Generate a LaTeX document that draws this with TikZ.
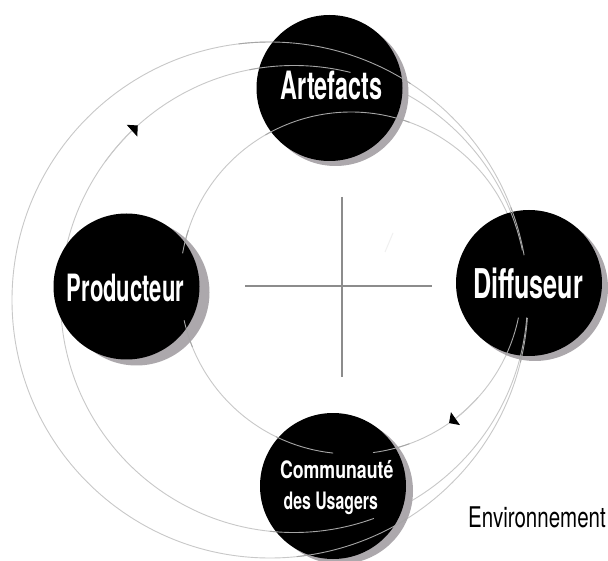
\documentclass[tikz,border=0pt]{standalone}
\usepackage{fontspec}
\usepackage{graphicx}
\usetikzlibrary{arrows.meta}
\newfontfamily\hf{TeX Gyre Heros}
\definecolor{ringc}{RGB}{200,200,200}
\definecolor{ringd}{RGB}{165,165,165}
\definecolor{crossc}{RGB}{140,140,140}
\definecolor{shadc}{RGB}{172,168,172}
\newcommand{\lbl}[3]{{\hf\bfseries\fontsize{#1}{#1}\selectfont\scalebox{#2}[1]{#3}}}
\newcommand{\lblr}[3]{{\hf\fontsize{#1}{#1}\selectfont\scalebox{#2}[1]{#3}}}
\begin{document}
\begin{tikzpicture}[x=1pt,y=-1pt,
  ring/.style={draw=ringc, line width=0.9pt},
  ringover/.style={draw=ringd, line width=0.9pt},
  disk/.style={circle, fill=black, minimum size=146pt, inner sep=0pt},
  shade/.style={fill=shadc},
  lab/.style={text=white, inner sep=0pt, anchor=base},
  axis/.style={draw=crossc, line width=1.2pt},
  tipA/.style={-{Triangle[angle=90:11pt,color=black]}}]
\useasboundingbox (0,0) rectangle (608,561);
\fill[white] (0,0) rectangle (608,561);
% circle centres
\coordinate (c1) at (270,300);
\coordinate (c2) at (294,299);
\coordinate (c3) at (351,283);
% full rings
\draw[ring] (c1) circle[radius=258];
\draw[ring] (c2) circle[radius=233.5];
\draw[ring] (c3) circle[radius=171];
% cross
\coordinate (hl) at (245,286);
\coordinate (hr) at (432,286);
\coordinate (vt) at (342,197);
\coordinate (vb) at (342,377);
\draw[axis] (hl) -- (hr);
\draw[axis] (vt) -- (vb);
\coordinate (fa) at (393,233);
\coordinate (fb) at (385,252);
\draw[draw=black!6, line width=1pt] (fa) -- (fb);
% shadows
\fill[shade] (335.5,93) circle[radius=73];
\fill[shade] (136.5,292.5) circle[radius=73];
\fill[shade] (535,288) circle[radius=73];
\fill[shade] (340,491) circle[radius=73];
% disks
\node[disk] (art) at (329.5,88) {};
\node[disk] (prod) at (126.5,286.5) {};
\node[disk] (diff) at (529,283) {};
\node[disk] (comm) at (333,486) {};
% ring pieces drawn over the disks
\draw[ringover] (c1) ++(263:258) arc[start angle=263, end angle=303, radius=258];
\draw[ringover] (c1) ++(58:258) arc[start angle=58, end angle=84, radius=258];
\draw[ringover] (c1) ++(-21:258) arc[start angle=-21, end angle=-10, radius=258];
\draw[ringover] (c1) ++(4:258) arc[start angle=4, end angle=14, radius=258];
\draw[ringover] (c2) ++(259:233.5) arc[start angle=259, end angle=284, radius=233.5];
\draw[ringover] (c2) ++(70:233.5) arc[start angle=70, end angle=96, radius=233.5];
\draw[ringover] (c2) ++(-22:233.5) arc[start angle=-22, end angle=-12, radius=233.5];
\draw[ringover] (c2) ++(4.5:233.5) arc[start angle=4.5, end angle=15, radius=233.5];
\draw[ringover] (c3) ++(240:171) arc[start angle=240, end angle=290, radius=171];
\draw[ringover] (c3) ++(190:171) arc[start angle=190, end angle=198, radius=171];
\draw[ringover] (c3) ++(158:171) arc[start angle=158, end angle=167.4, radius=171];
\draw[ringover] (c3) ++(96:171) arc[start angle=96, end angle=116, radius=171];
\draw[ringover] (c3) ++(70:171) arc[start angle=70, end angle=82.6, radius=171];
\draw[ringover] (c3) ++(11.7:171) arc[start angle=11.7, end angle=25, radius=171];
% arrow heads
\draw[ring, tipA] (c2) ++(216:233.5) arc[start angle=216, end angle=228, radius=233.5];
\draw[ring, tipA] (c3) ++(42:171) arc[start angle=42, end angle=55, radius=171];
% labels
\node[lab] (tart) at (331.7,100) {\lbl{39}{0.60}{Artefacts}};
\node[lab] (tprod) at (125.5,302) {\lbl{37.6}{0.586}{Producteur}};
\node[lab] (tdiff) at (528,298.6) {\lbl{41}{0.615}{Diffuseur}};
\node[lab] (tcomm1) at (336.7,478) {\lbl{24}{0.74}{Communauté}};
\node[lab] (tcomm2) at (330.8,509.5) {\lbl{24}{0.66}{des Usagers}};
\node[lab, text=black, anchor=base west] (tenv) at (468,527) {\lblr{28.5}{0.72}{Environnement}};
\end{tikzpicture}
\end{document}
